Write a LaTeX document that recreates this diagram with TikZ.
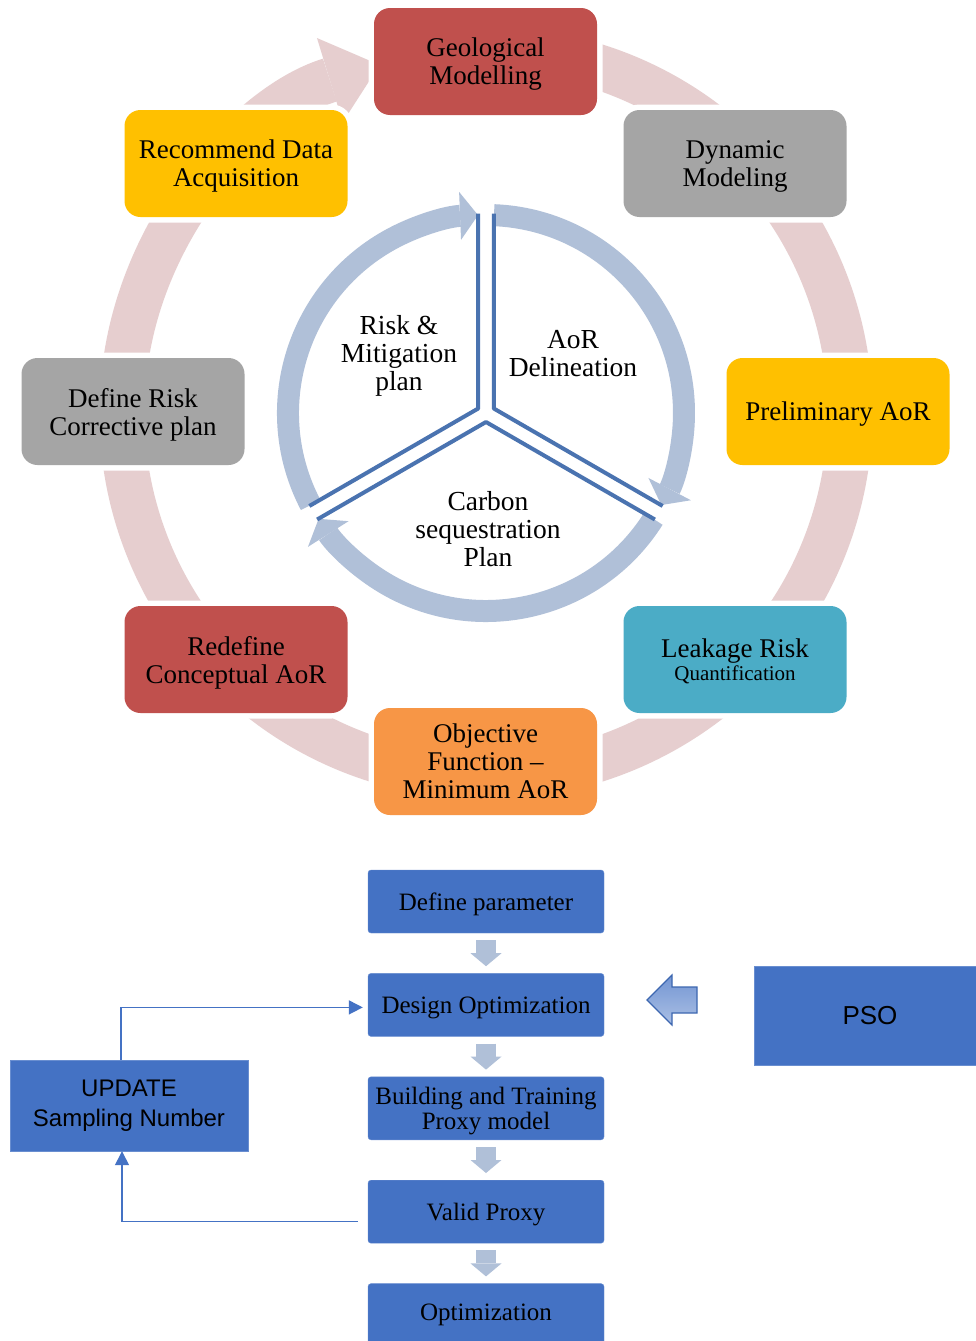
\documentclass[tikz,border=0pt]{standalone}
\usepackage{fontspec}
\setmainfont{Liberation Serif}
\setsansfont{Liberation Sans}
\usepackage{tikz}
\usetikzlibrary{arrows.meta,positioning}
\definecolor{boxred}{RGB}{192,80,77}
\definecolor{boxgray}{RGB}{165,165,165}
\definecolor{boxyellow}{RGB}{255,192,0}
\definecolor{boxteal}{RGB}{75,172,198}
\definecolor{boxorange}{RGB}{247,150,70}
\definecolor{ringpink}{RGB}{230,206,207}
\definecolor{ringblue}{RGB}{176,192,216}
\definecolor{edgeblue}{RGB}{74,115,176}
\definecolor{flowblue}{RGB}{68,114,196}
\tikzset{
    cycle-box/.style = {rectangle, rounded corners=16pt, minimum width=223pt, minimum height=107pt, inner sep=0pt, align=center, font=\fontsize{27}{28}\selectfont, text depth=0pt, preaction={draw=white, line width=11pt}},
    outer-ring/.style = {draw=ringpink, line width=45pt, -{Triangle[length=52pt,width=88pt,line width=0pt]}},
    inner-arrow/.style = {draw=ringblue, line width=22pt, -{Triangle[length=18pt,width=48pt,line width=0pt]}},
    sector-edge/.style = {draw=edgeblue, line width=4pt, line join=round},
    inner-label/.style = {align=center, font=\fontsize{27.5}{28}\selectfont},
    flow-box/.style = {rectangle, fill=flowblue, draw=flowblue!80!white, rounded corners=3pt, minimum width=236pt, minimum height=63pt, inner sep=0pt, align=center, font=\fontsize{25}{25}\selectfont, text depth=0pt},
    side-box/.style = {rectangle, fill=flowblue, draw=flowblue!80!white, inner sep=0pt, align=center, font=\sffamily\fontsize{24}{30}\selectfont},
    flow-step/.style = {draw=ringblue, line width=20pt, -{Triangle[length=13pt,width=31pt,line width=0pt]}, shorten <=7pt, shorten >=7pt},
    loop-line/.style = {draw=flowblue, line width=1.5pt, -{Triangle[length=14pt,width=14pt]}},
    pso-arrow/.style = {draw=flowblue!90!black, line width=1.2pt, top color=flowblue!75!white, bottom color=flowblue!45!white},
}

\begin{document}
\begin{tikzpicture}[x=1pt,y=1pt]
\path[use as bounding box, fill=white] (0,0) rectangle (976,-1341);

\coordinate (c) at (486,-413);
\draw[outer-ring] (c) ++(75:364) arc[start angle=75, end angle=-253, radius=364];

\node[cycle-box, fill=boxred] (geo) at (485.5,-61.5) {Geological\\Modelling};
\node[cycle-box, fill=boxgray] (dyn) at (735,-163.5) {Dynamic\\Modeling};
\node[cycle-box, fill=boxyellow] (pre) at (838,-411.5) {Preliminary AoR};
\node[cycle-box, fill=boxteal] (leak) at (735,-659.5) {Leakage Risk\\[-5pt]\fontsize{21}{23}\selectfont Quantification};
\node[cycle-box, fill=boxorange] (obj) at (485.5,-761.5) {Objective\\Function --\\Minimum AoR};
\node[cycle-box, fill=boxred] (redef) at (236,-659.5) {Redefine\\Conceptual AoR};
\node[cycle-box, fill=boxgray] (risk) at (133,-411.5) {Define Risk\\Corrective plan};
\node[cycle-box, fill=boxyellow] (rec) at (236,-163.5) {Recommend Data\\Acquisition};

\draw[inner-arrow] (c) ++(207.7:198) arc[start angle=207.7, end angle=92.3, radius=198];
\draw[inner-arrow] (c) ++(87.7:198) arc[start angle=87.7, end angle=-27.7, radius=198];
\draw[inner-arrow] (c) ++(-32.3:198) arc[start angle=-32.3, end angle=-147.7, radius=198];

\path (c) ++(150:9) coordinate (sl);
\path (c) ++(30:9) coordinate (sr);
\path (c) ++(270:9) coordinate (sb);
\draw[sector-edge] (sl) ++(90:195) -- (sl) -- ++(210:195);
\draw[sector-edge] (sr) ++(90:195) -- (sr) -- ++(-30:195);
\draw[sector-edge] (sb) ++(210:195) -- (sb) -- ++(-30:195);

\node[inner-label] (mit) at (399,-356) {Risk \&\\Mitigation\\plan};
\node[inner-label] (aor) at (573,-354) {AoR\\Delineation};
\node[inner-label] (seq) at (488,-529) {Carbon\\sequestration\\Plan};

\node[flow-box] (def) at (486,-901.5) {Define parameter};
\node[flow-box, below=40pt of def] (des) {Design Optimization};
\node[flow-box, below=40pt of des] (build) {Building and Training\\Proxy model};
\node[flow-box, below=40pt of build] (val) {Valid Proxy};
\node[flow-box, below=40pt of val, text depth=5pt] (opt) {Optimization};

\draw[flow-step] (def) -- (des);
\draw[flow-step] (des) -- (build);
\draw[flow-step] (build) -- (val);
\draw[flow-step] (val) -- (opt);

\node[side-box, minimum width=238pt, minimum height=91pt] (upd) at (129,-1105.5) {UPDATE\\Sampling Number};
\node[side-box, minimum width=232pt, minimum height=99pt, font=\sffamily\fontsize{26}{30}\selectfont] (pso) at (870,-1015.5) {PSO};

\draw[loop-line, shorten >=5pt] ([xshift=-8pt]upd.north) |- ([yshift=-2.5pt]des.west);
\draw[loop-line] ([xshift=-10pt,yshift=-10pt]val.west) -| ([xshift=-7pt]upd.south);

\draw[pso-arrow] (647,-1000) -- (672,-975) -- (672,-987) -- (697,-987) -- (697,-1013) -- (672,-1013) -- (672,-1025) -- cycle;
\end{tikzpicture}
\end{document}
